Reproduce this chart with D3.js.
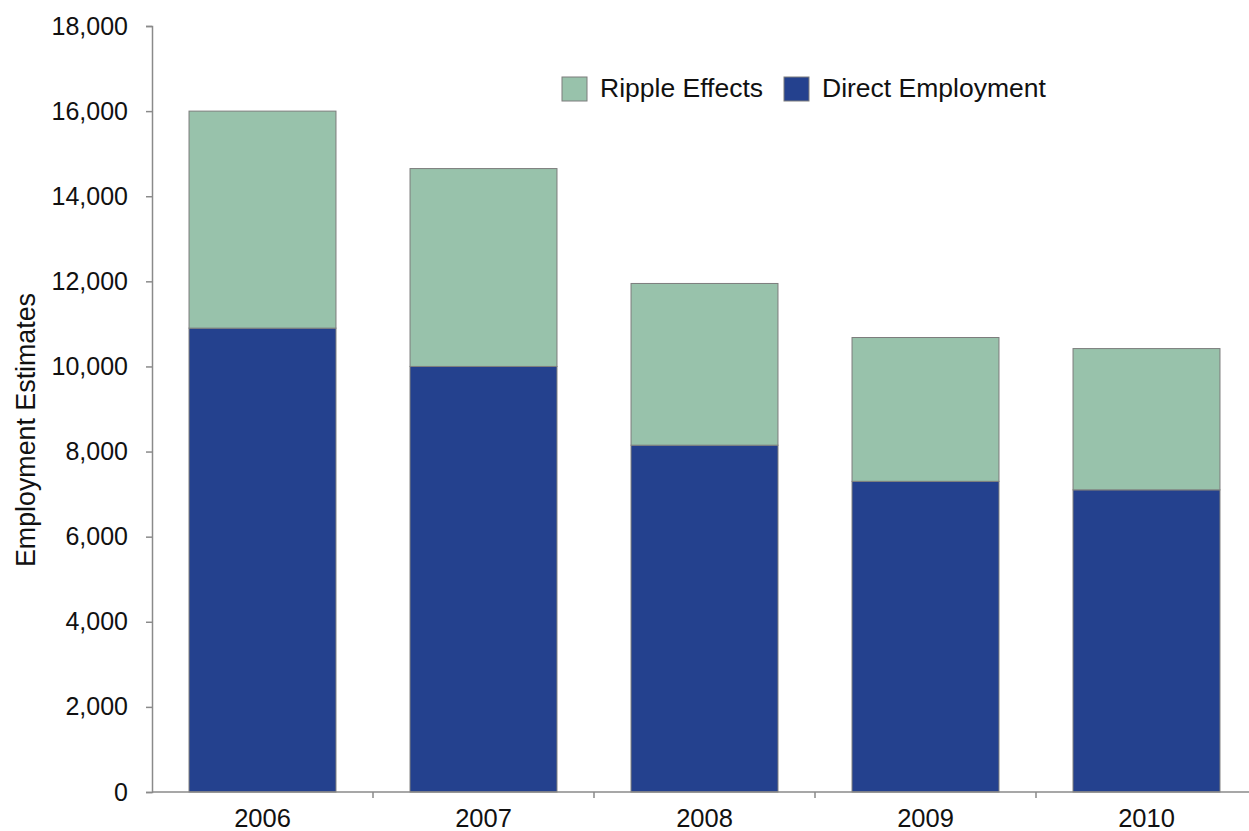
<!DOCTYPE html>
<html>
<head>
<meta charset="utf-8">
<script src="https://cdn.jsdelivr.net/npm/d3@7"></script>
<style>
  html, body { margin: 0; padding: 0; background: #fff; }
  svg { display: block; font-family: "Liberation Sans", Arial, sans-serif; }
</style>
</head>
<body>
<svg id="chart" width="1249" height="831"></svg>
<script>
// Employment estimates by year, split into direct jobs and ripple effects
const years = ["2006", "2007", "2008", "2009", "2010"];
const directEmployment = [10900, 10000, 8150, 7300, 7100];
const rippleEffects = [5100, 4650, 3800, 3380, 3320];
const yTicks = [0, 2000, 4000, 6000, 8000, 10000, 12000, 14000, 16000, 18000];
const seriesNames = ["Ripple Effects", "Direct Employment"];

const colors = { "Direct Employment": "#24418e", "Ripple Effects": "#98c2ab" };
const outline = "#7d7d7d";
const axisColor = "#8a8a8a";

const svg = d3.select("#chart");
const plotLeft = 152, plotRight = 1257, plotTop = 26, plotBottom = 792;

const x = d3.scaleBand().domain(years).range([plotLeft, plotRight]).paddingInner(0).paddingOuter(0);
const barW = x.bandwidth() * 0.665;
const y = d3.scaleLinear().domain([0, 18000]).range([plotBottom, plotTop]);

const rows = years.map((yr, i) => ({
  year: yr,
  "Direct Employment": directEmployment[i],
  "Ripple Effects": rippleEffects[i]
}));
const stack = d3.stack().keys(["Direct Employment", "Ripple Effects"]);
const layers = stack(rows);

// Stacked bars
svg.append("g").selectAll("g")
  .data(layers)
  .join("g")
  .attr("fill", d => colors[d.key])
  .selectAll("rect")
  .data(d => d)
  .join("rect")
  .attr("x", d => x(d.data.year) + (x.bandwidth() - barW) / 2)
  .attr("y", d => y(d[1]))
  .attr("width", barW)
  .attr("height", d => y(d[0]) - y(d[1]))
  .attr("stroke", outline)
  .attr("stroke-width", 1);

// Y axis
const yAxis = svg.append("g")
  .attr("transform", `translate(${plotLeft},0)`)
  .call(d3.axisLeft(y).tickValues(yTicks).tickFormat(d3.format(",")).tickSize(6).tickPadding(18));
yAxis.select(".domain").attr("stroke", axisColor).attr("stroke-width", 1.5);
yAxis.selectAll(".tick line").attr("stroke", axisColor).attr("stroke-width", 1.5);
yAxis.selectAll("text").attr("font-size", 25).attr("fill", "#111")
  .attr("font-family", "Liberation Sans, Arial, sans-serif");

// X axis: ticks sit on the category boundaries
const xAxis = svg.append("g").attr("transform", `translate(0,${plotBottom})`);
xAxis.append("line")
  .attr("x1", plotLeft).attr("x2", plotRight)
  .attr("stroke", axisColor).attr("stroke-width", 1.5);
xAxis.selectAll("line.sep")
  .data(years.slice(1))
  .join("line")
  .attr("class", "sep")
  .attr("x1", d => x(d)).attr("x2", d => x(d))
  .attr("y1", 0).attr("y2", 6)
  .attr("stroke", axisColor).attr("stroke-width", 1.5);
xAxis.selectAll("text")
  .data(years)
  .join("text")
  .attr("x", d => x(d) + x.bandwidth() / 2)
  .attr("y", 35)
  .attr("text-anchor", "middle")
  .attr("font-size", 25.5)
  .attr("fill", "#111")
  .text(d => d);

// Y axis title
svg.append("text")
  .attr("transform", "translate(35,430) rotate(-90)")
  .attr("text-anchor", "middle")
  .attr("font-size", 26.8)
  .attr("fill", "#111")
  .text("Employment Estimates");

// Legend
const legendItems = [
  { name: seriesNames[0], x: 562 },
  { name: seriesNames[1], x: 784 }
];
const legend = svg.append("g").selectAll("g")
  .data(legendItems)
  .join("g")
  .attr("transform", d => `translate(${d.x},77)`);
legend.append("rect")
  .attr("width", 25).attr("height", 24)
  .attr("fill", d => colors[d.name])
  .attr("stroke", outline).attr("stroke-width", 1);
legend.append("text")
  .attr("x", 38).attr("y", 20)
  .attr("font-size", 26.5)
  .attr("fill", "#111")
  .text(d => d.name);
</script>
</body>
</html>
